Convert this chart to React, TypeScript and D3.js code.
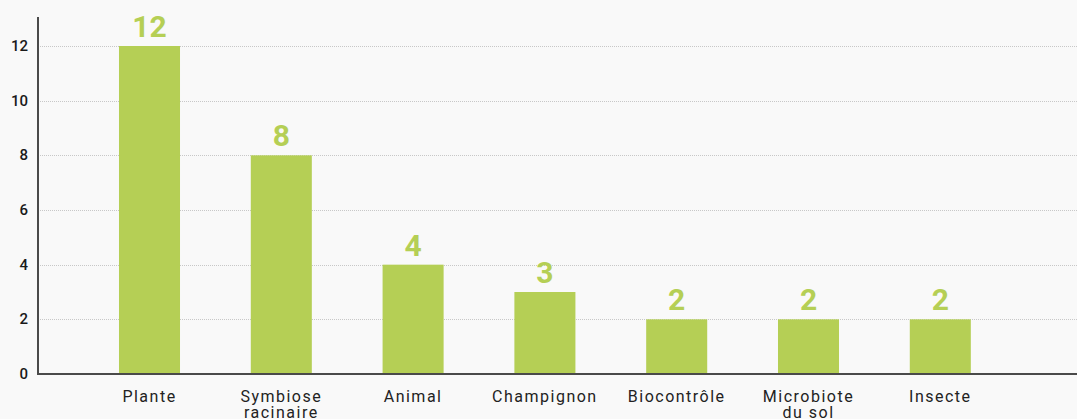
import { useEffect, useRef } from 'react';
import * as d3 from 'd3';

const categories = ['Plante', 'Symbiose\nracinaire', 'Animal', 'Champignon', 'Biocontrôle', 'Microbiote\ndu sol', 'Insecte'];
const values = [12, 8, 4, 3, 2, 2, 2];
const yTicks = [0, 2, 4, 6, 8, 10, 12];

const WIDTH = 1077;
const HEIGHT = 419;
const GREEN = '#b5cf55';

export default function App() {
  const svgRef = useRef<SVGSVGElement>(null);

  useEffect(() => {
    if (!svgRef.current) return;
    const svg = d3.select(svgRef.current);
    svg.selectAll('*').remove();

    const axisX = 38;
    const baseY = 374;

    const x = d3.scaleBand()
      .domain(categories)
      .range([83.6, 1006.2])
      .paddingInner(0.537)
      .paddingOuter(0.2685);

    const y = d3.scaleLinear()
      .domain([0, 12])
      .range([baseY, 46]);

    svg.append('rect')
      .attr('width', WIDTH)
      .attr('height', HEIGHT)
      .attr('fill', '#f9f9f9');

    // gridlines
    svg.append('g')
      .selectAll('line')
      .data(yTicks.filter(t => t > 0))
      .enter()
      .append('line')
      .attr('x1', axisX)
      .attr('x2', WIDTH)
      .attr('y1', d => Math.round(y(d)) + 0.5)
      .attr('y2', d => Math.round(y(d)) + 0.5)
      .attr('stroke', '#c8c8c8')
      .attr('stroke-width', 1)
      .attr('stroke-dasharray', '1,1');

    // bars
    svg.append('g')
      .selectAll('rect')
      .data(values)
      .enter()
      .append('rect')
      .attr('x', (d, i) => x(categories[i]) || 0)
      .attr('y', d => y(d))
      .attr('width', x.bandwidth())
      .attr('height', d => baseY - y(d))
      .attr('fill', GREEN);

    // value labels
    svg.append('g')
      .selectAll('text')
      .data(values)
      .enter()
      .append('text')
      .attr('x', (d, i) => (x(categories[i]) || 0) + x.bandwidth() / 2)
      .attr('y', d => y(d) - 9)
      .attr('text-anchor', 'middle')
      .attr('fill', GREEN)
      .attr('font-size', '30px')
      .attr('font-weight', '700')
      .attr('font-family', 'Roboto, sans-serif')
      .text(d => d);

    // y tick labels
    svg.append('g')
      .selectAll('text')
      .data(yTicks)
      .enter()
      .append('text')
      .attr('x', 28)
      .attr('y', d => y(d) + 5)
      .attr('text-anchor', 'end')
      .attr('fill', '#1a1a1a')
      .attr('font-size', '15px')
      .attr('font-weight', '500')
      .attr('font-family', 'Roboto, sans-serif')
      .text(d => d);

    // category labels (second line runs off the bottom, as in the original)
    const cat = svg.append('g')
      .selectAll('text')
      .data(categories)
      .enter()
      .append('text')
      .attr('x', d => (x(d) || 0) + x.bandwidth() / 2)
      .attr('y', 402)
      .attr('text-anchor', 'middle')
      .attr('fill', '#222')
      .attr('font-size', '16px')
      .attr('letter-spacing', '1.5px')
      .attr('font-family', 'Roboto, sans-serif');
    cat.each(function (d) {
      const t = d3.select(this);
      d.split('\n').forEach((line, i) => {
        t.append('tspan')
          .attr('x', (x(d) || 0) + x.bandwidth() / 2)
          .attr('dy', i === 0 ? 0 : 16)
          .text(line);
      });
    });

    // axes lines
    svg.append('line')
      .attr('x1', axisX)
      .attr('x2', axisX)
      .attr('y1', 17)
      .attr('y2', baseY + 1)
      .attr('stroke', '#4a4a4a')
      .attr('stroke-width', 2);
    svg.append('line')
      .attr('x1', axisX - 1)
      .attr('x2', WIDTH)
      .attr('y1', baseY)
      .attr('y2', baseY)
      .attr('stroke', '#4a4a4a')
      .attr('stroke-width', 2);
  }, []);

  return (
    <div style={{ position: 'fixed', left: 0, top: 0 }}>
      <svg ref={svgRef} width={WIDTH} height={HEIGHT} style={{ display: 'block' }} />
    </div>
  );
}
